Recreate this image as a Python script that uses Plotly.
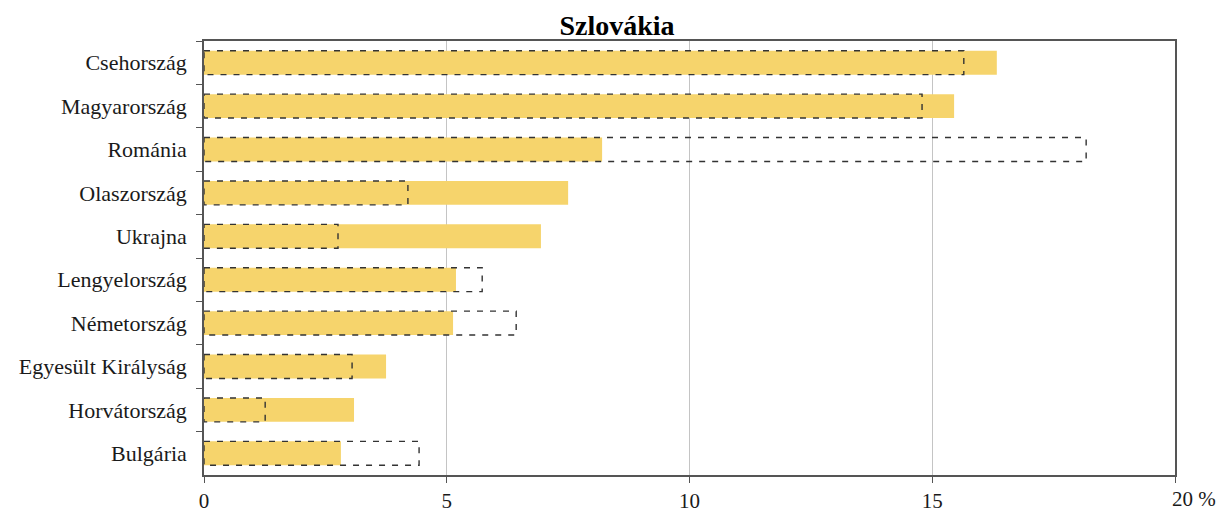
import plotly.graph_objects as go

categories = ["Csehország", "Magyarország", "Románia", "Olaszország", "Ukrajna",
              "Lengyelország", "Németország", "Egyesült Királyság", "Horvátország", "Bulgária"]
filled_values = [16.33, 15.45, 8.2, 7.5, 6.94, 5.19, 5.13, 3.75, 3.09, 2.82]
dashed_values = [15.65, 14.79, 18.17, 4.2, 2.76, 5.73, 6.43, 3.05, 1.26, 4.43]
x_tickvals = [0, 5, 10, 15, 20]
x_ticktext = ["0", "5", "10", "15", ""]
last_tick_label = "20 %"

BAR_W = 0.55
font_family = "Liberation Serif, Times New Roman, serif"
TXT = "#1a1a1a"

fig = go.Figure()
fig.add_trace(go.Bar(
    y=categories, x=filled_values, orientation="h",
    marker=dict(color="#F6D46C", line=dict(width=0)),
    width=BAR_W, showlegend=False, hoverinfo="x+y",
))

shapes = []
for i, v in enumerate(dashed_values):
    shapes.append(dict(
        type="rect", xref="x", yref="y",
        x0=0, x1=v, y0=i - BAR_W / 2, y1=i + BAR_W / 2,
        line=dict(color="#333333", width=1.4, dash="6px,7px"),
        fillcolor="rgba(0,0,0,0)", layer="above",
    ))

fig.update_layout(
    width=1218, height=506,
    margin=dict(l=196, r=51, t=33, b=39, autoexpand=False),
    paper_bgcolor="white", plot_bgcolor="white",
    barmode="overlay",
    shapes=shapes,
    title=dict(text="<b>Szlovákia</b>", x=0.5, xref="container", xanchor="center",
               y=0.966, yref="container", yanchor="middle",
               font=dict(family=font_family, size=28, color="black")),
    font=dict(family=font_family, size=22, color=TXT),
    xaxis=dict(
        range=[0, 20], tickvals=x_tickvals, ticktext=x_ticktext,
        showgrid=True, gridcolor="#c4c4c4", gridwidth=1,
        showline=True, linecolor="#555555", linewidth=1.5, mirror=True,
        ticks="outside", ticklen=6, tickcolor="#555555",
        tickfont=dict(size=21, color=TXT), zeroline=False, automargin=False,
    ),
    yaxis=dict(
        type="category", autorange="reversed",
        tickson="boundaries", ticks="outside", ticklen=6, tickcolor="#555555",
        showline=True, linecolor="#555555", linewidth=1.5, mirror=True,
        showgrid=False, tickfont=dict(size=22, color=TXT),
        ticklabelstandoff=11, automargin=False,
    ),
    annotations=[dict(text=last_tick_label, x=x_tickvals[-1], xref="x", y=0, yref="paper",
                      xanchor="left", yanchor="top", xshift=-5, yshift=-10,
                      showarrow=False, font=dict(family=font_family, size=21, color=TXT))],
)

fig.write_html("out.html")
